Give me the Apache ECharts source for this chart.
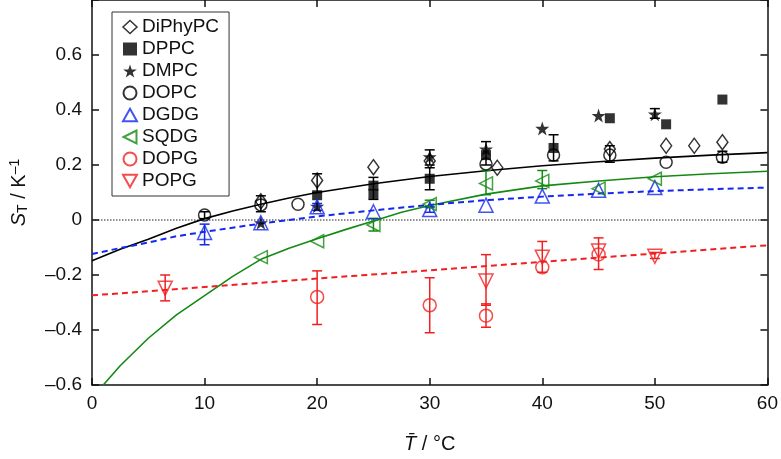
<!DOCTYPE html>
<html><head><meta charset="utf-8">
<script src="https://cdn.jsdelivr.net/npm/echarts@6/dist/echarts.min.js"></script>
<style>html,body{margin:0;padding:0;background:#fff}#c{width:781px;height:459px}</style>
</head><body><div id="c"></div>
<script>
// ---- data ----
const xTicks = [0, 10, 20, 30, 40, 50, 60];
const yTicks = [-0.6, -0.4, -0.2, 0, 0.2, 0.4, 0.6];

const diphypcX = [15, 20, 25, 30, 36, 46, 51, 53.5, 56];
const diphypcY = [0.068, 0.144, 0.192, 0.215, 0.19, 0.258, 0.27, 0.27, 0.283];
const dppcX = [20, 25, 25, 30, 35, 41, 46, 51, 56];
const dppcY = [0.09, 0.125, 0.095, 0.15, 0.236, 0.262, 0.37, 0.348, 0.438];
const dmpcX = [15, 20, 30, 35, 40, 45, 50];
const dmpcY = [-0.01, 0.05, 0.23, 0.258, 0.333, 0.38, 0.385];
const dopcX = [10, 15, 18.3, 35, 41, 46, 51, 56];
const dopcY = [0.018, 0.055, 0.057, 0.204, 0.236, 0.236, 0.21, 0.228];
const dgdgX = [10, 15, 20, 25, 30, 35, 40, 45, 50];
const dgdgY = [-0.045, -0.01, 0.048, 0.03, 0.038, 0.054, 0.087, 0.108, 0.118];
const sqdgX = [15, 20, 25, 30, 35, 40, 45, 50];
const sqdgY = [-0.135, -0.077, -0.018, 0.058, 0.133, 0.142, 0.114, 0.15];
const dopgX = [20, 30, 35, 40, 45];
const dopgY = [-0.28, -0.31, -0.348, -0.172, -0.125];
const popgX = [6.5, 35, 40, 45, 50];
const popgY = [-0.248, -0.222, -0.135, -0.113, -0.132];

// error bars: x, low, high
const errBlackX  = [10, 15, 20, 25, 30, 30, 35, 41, 46, 50, 56];
const errBlackLo = [0.005, 0.03, 0.10, 0.075, 0.11, 0.2, 0.2, 0.215, 0.21, 0.37, 0.21];
const errBlackHi = [0.03, 0.088, 0.168, 0.155, 0.19, 0.255, 0.285, 0.31, 0.27, 0.405, 0.25];
const errBlueX  = [10, 20, 30];
const errBlueLo = [-0.09, 0.035, 0.028];
const errBlueHi = [-0.015, 0.06, 0.048];
const errGreenX  = [25, 30, 35, 40];
const errGreenLo = [-0.04, 0.045, 0.092, 0.114];
const errGreenHi = [0.006, 0.072, 0.18, 0.18];
const errRedX  = [6.5, 20, 30, 35, 35, 40, 45, 50];
const errRedLo = [-0.294, -0.38, -0.41, -0.31, -0.39, -0.19, -0.18, -0.14];
const errRedHi = [-0.2, -0.185, -0.21, -0.126, -0.305, -0.078, -0.065, -0.118];

// fitted curves
const fitBlackX = [0, 2.5, 5, 7.5, 10, 12.5, 15, 17.5, 20, 25, 30, 35, 40, 45, 50, 55, 60];
const fitBlackY = [-0.148, -0.106, -0.07, -0.03, 0.005, 0.033, 0.057, 0.08, 0.1, 0.132, 0.158, 0.179, 0.197, 0.212, 0.225, 0.236, 0.245];
const fitGreenX = [1, 2.5, 5, 7.5, 10, 12.5, 15, 17.5, 20, 22.5, 25, 27.5, 30, 35, 40, 45, 50, 55, 60];
const fitGreenY = [-0.6, -0.53, -0.43, -0.345, -0.275, -0.205, -0.143, -0.103, -0.068, -0.035, -0.004, 0.028, 0.053, 0.094, 0.124, 0.142, 0.157, 0.168, 0.177];
const fitBlueX = [0, 2.5, 5, 7.5, 10, 15, 20, 25, 30, 35, 40, 45, 50, 55, 60];
const fitBlueY = [-0.124, -0.102, -0.082, -0.059, -0.043, -0.013, 0.013, 0.035, 0.055, 0.072, 0.085, 0.096, 0.105, 0.112, 0.118];
const fitRedX = [0, 10, 20, 30, 40, 50, 60];
const fitRedY = [-0.274, -0.244, -0.213, -0.183, -0.152, -0.122, -0.092];
const zeroX = [0, 60];
const zeroY = [0, 0];

// ---- build ----
const zip = (xs, ys) => xs.map((x, i) => [x, ys[i]]);
const zip3 = (xs, a, b) => xs.map((x, i) => [x, a[i], b[i]]);
const BLUE = '#1428f0', GREEN = '#138a13', RED = '#f02020', BLACK = '#000';
const FONT = 'Liberation Sans';
const STAR = 'path://M50,0 L61.8,35.1 L98.1,35.1 L68.8,56.7 L79.4,91 L50,70 L20.6,91 L31.2,56.7 L1.9,35.1 L38.2,35.1 Z';
const LTRI = 'path://M100,0 L0,50 L100,100 Z';
const DTRI = 'path://M0,0 L100,0 L50,90 Z';
const UTRI = 'path://M50,0 L100,90 L0,90 Z';

function open(color) { return { color: 'rgba(255,255,255,0)', borderColor: color, borderWidth: 1.5 }; }

function errSeries(xs, lo, hi, color) {
  return {
    type: 'custom', silent: true, z: 2,
    data: zip3(xs, lo, hi),
    encode: { x: 0, y: [1, 2] },
    renderItem: function (params, api) {
      const x = api.value(0);
      const p1 = api.coord([x, api.value(2)]);
      const p2 = api.coord([x, api.value(1)]);
      const w = 5;
      const st = { stroke: color, lineWidth: 1.5 };
      return { type: 'group', children: [
        { type: 'line', shape: { x1: p1[0], y1: p1[1], x2: p2[0], y2: p2[1] }, style: st },
        { type: 'line', shape: { x1: p1[0] - w, y1: p1[1], x2: p1[0] + w, y2: p1[1] }, style: st },
        { type: 'line', shape: { x1: p2[0] - w, y1: p2[1], x2: p2[0] + w, y2: p2[1] }, style: st }
      ]};
    }
  };
}
function lineSeries(xs, ys, color, dashed, w) {
  return { type: 'line', data: zip(xs, ys), showSymbol: false, symbol: 'none', smooth: false,
    silent: true, z: 1, lineStyle: { color: color, width: w || 1.5, type: dashed ? [6, 4] : 'solid', join: 'round' } };
}
function scat(name, xs, ys, symbol, size, style) {
  return { name: name, type: 'scatter', data: zip(xs, ys), symbol: symbol, symbolSize: size, z: 3, itemStyle: style };
}

const fmt = v => {
  if (Math.abs(v - 0.8) < 1e-6) return '';
  if (Math.abs(v) < 1e-9) return '0';
  return (v < 0 ? '\u2013' : '') + Math.abs(v).toFixed(1);
};

const axisCommon = {
  axisLine: { show: true, onZero: false, lineStyle: { color: '#111', width: 1.5 } },
  axisTick: { show: true, inside: true, length: 7, lineStyle: { color: '#111', width: 1.5 } },
  splitLine: { show: false }
};

const option = {
  animation: false,
  backgroundColor: '#fff',
  grid: { left: 90, right: 12, top: 0, bottom: 70 },
  xAxis: [
    Object.assign({ type: 'value', min: 0, max: 60, interval: 10, position: 'bottom',
      axisLabel: { fontFamily: FONT, fontSize: 19, color: '#111', margin: 9 },
      name: '{i|T\u0304}{n| / \u00b0C}', nameLocation: 'middle', nameGap: 49,
      nameTextStyle: { rich: { i: { fontFamily: FONT, fontStyle: 'italic', fontSize: 20, color: '#111' },
                               n: { fontFamily: FONT, fontSize: 20, color: '#111' } } } }, axisCommon),
    Object.assign({ type: 'value', min: 0, max: 60, interval: 10, position: 'top', axisLabel: { show: false } }, axisCommon)
  ],
  yAxis: [
    Object.assign({ type: 'value', min: -0.6, max: 0.8, interval: 0.2, position: 'left',
      axisLabel: { fontFamily: FONT, fontSize: 19, color: '#111', margin: 10, formatter: fmt },
      name: '{s|S}{sub|T}{n| / K}{sup|\u20131}', nameLocation: 'middle', nameGap: 62, nameRotate: 90,
      nameTextStyle: { rich: {
        s: { fontFamily: FONT, fontStyle: 'italic', fontSize: 20, color: '#111' },
        sub: { fontFamily: FONT, fontSize: 14, color: '#111', verticalAlign: 'bottom', padding: [8, 0, 0, 0] },
        n: { fontFamily: FONT, fontSize: 20, color: '#111' },
        sup: { fontFamily: FONT, fontSize: 14, color: '#111', verticalAlign: 'top', padding: [0, 0, 8, 0] } } } }, axisCommon),
    Object.assign({ type: 'value', min: -0.6, max: 0.8, interval: 0.2, position: 'right', axisLabel: { show: false } }, axisCommon)
  ],
  legend: {
    orient: 'vertical', left: 112, top: 12,
    padding: [5, 10, 5, 10], itemGap: 2, itemWidth: 14, itemHeight: 13,
    borderColor: '#333', borderWidth: 1, borderRadius: 0,
    textStyle: { fontFamily: FONT, fontSize: 19, color: '#111', lineHeight: 20 },
    data: [
      { name: 'DiPhyPC', icon: 'diamond', itemStyle: { borderWidth: 1.5 } },
      { name: 'DPPC', icon: 'rect' },
      { name: 'DMPC', icon: STAR },
      { name: 'DOPC', icon: 'circle' },
      { name: 'DGDG', icon: UTRI },
      { name: 'SQDG', icon: LTRI },
      { name: 'DOPG', icon: 'circle' },
      { name: 'POPG', icon: DTRI }
    ]
  },
  series: [
    { type: 'line', data: zip(zeroX, zeroY), symbol: 'none', silent: true, z: 1,
      lineStyle: { color: '#222', width: 1.2, type: [1.5, 1.5] } },
    lineSeries(fitBlackX, fitBlackY, BLACK, false, 1.6),
    lineSeries(fitGreenX, fitGreenY, GREEN, false, 1.6),
    lineSeries(fitBlueX, fitBlueY, BLUE, true, 2),
    lineSeries(fitRedX, fitRedY, RED, true, 2),
    errSeries(errBlackX, errBlackLo, errBlackHi, BLACK),
    errSeries(errBlueX, errBlueLo, errBlueHi, BLUE),
    errSeries(errGreenX, errGreenLo, errGreenHi, GREEN),
    errSeries(errRedX, errRedLo, errRedHi, RED),
    scat('DiPhyPC', diphypcX, diphypcY, 'diamond', [11, 15], open(BLACK)),
    scat('DPPC', dppcX, dppcY, 'rect', 10, { color: BLACK }),
    scat('DMPC', dmpcX, dmpcY, STAR, 14, { color: BLACK }),
    scat('DOPC', dopcX, dopcY, 'circle', 12, open(BLACK)),
    scat('DGDG', dgdgX, dgdgY, UTRI, 14, open(BLUE)),
    scat('SQDG', sqdgX, sqdgY, LTRI, 13, open(GREEN)),
    scat('DOPG', dopgX, dopgY, 'circle', 13, open(RED)),
    scat('POPG', popgX, popgY, DTRI, 14, open(RED))
  ]
};
const chart = echarts.init(document.getElementById('c'), null, { renderer: 'canvas' });
chart.setOption(option);
</script></body></html>
